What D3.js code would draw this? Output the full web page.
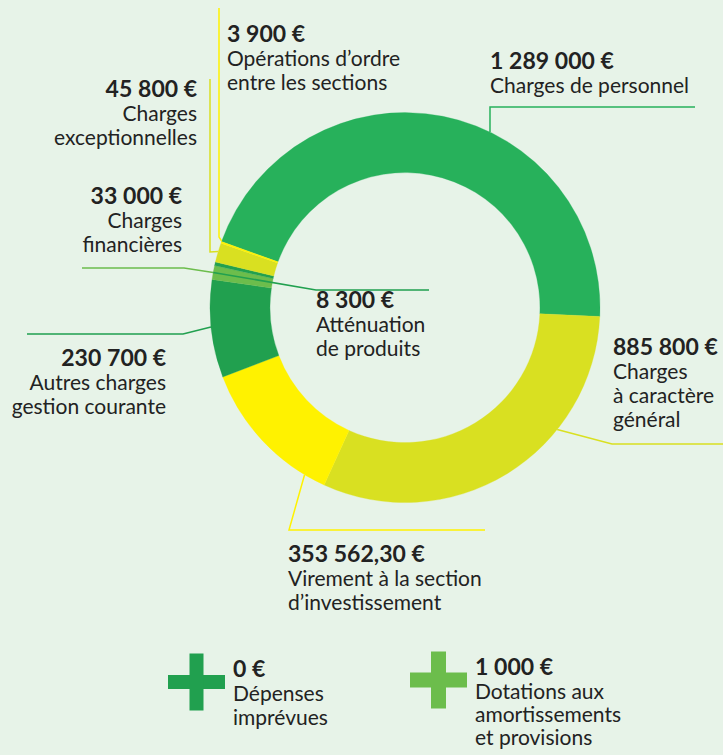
<!DOCTYPE html>
<html>
<head>
<meta charset="utf-8">
<script src="https://cdn.jsdelivr.net/npm/d3@7"></script>
<style>
  html, body { margin: 0; padding: 0; background: #e7f3e8; }
  svg { display: block; }
  text { font-family: Lato, "Open Sans", sans-serif; fill: #222; }
</style>
</head>
<body>
<script>
// Data
const categories = [
  "Charges de personnel",
  "Charges à caractère général",
  "Virement à la section d’investissement",
  "Autres charges gestion courante",
  "Charges financières",
  "Atténuation de produits",
  "Charges exceptionnelles",
  "Opérations d’ordre entre les sections"
];
const amounts = [1289000, 885800, 353562.30, 230700, 33000, 8300, 45800, 3900];
const labelLines = [
  ["Charges de personnel"],
  ["Charges", "à caractère", "général"],
  ["Virement à la section", "d’investissement"],
  ["Autres charges", "gestion courante"],
  ["Charges", "financières"],
  ["Atténuation", "de produits"],
  ["Charges", "exceptionnelles"],
  ["Opérations d’ordre", "entre les sections"]
];

// Items shown as crosses below the ring
const extraCategories = ["Dépenses imprévues", "Dotations aux amortissements et provisions"];
const extraAmounts = [0, 1000];
const extraLines = [["Dépenses", "imprévues"], ["Dotations aux", "amortissements", "et provisions"]];

// Chart dimensions
const width = 723;
const height = 755;
const cx = 405;
const cy = 307.6;
const outerRadius = 195;
const innerRadius = 135;
const startDeg = -70.2;
const valueSize = 23;
const labelSize = 21;

const colors = ["#27b15b", "#d9e021", "#fff200", "#21a04f", "#6cbd4c", "#21a04f", "#d9e021", "#fff200"];
const extraColors = ["#21a04f", "#6cbd4c"];

// Label layout: anchor angle on the ring, bend points, text position
const layout = [
  {angle: 25.84, bends: [[490, 107], [695, 107]], x: 490, y: 69, align: "start"},
  {angle: 128.7, bends: [[612, 444], [723, 444]], x: 613, y: 355, align: "start"},
  {angle: 211, bends: [[289, 530], [485, 530]], x: 288, y: 562, align: "start"},
  {angle: 264.3, bends: [[183, 334], [27, 334]], x: 166, y: 366, align: "end"},
  {angle: 280.4, bends: [[184, 268], [82, 268]], x: 182, y: 204, align: "end"},
  {angle: 280.4, bends: [[316, 290], [429, 290]], x: 316, y: 308, align: "start"},
  {angle: 286.7, bends: [[210, 252], [210, 79]], x: 197, y: 97, align: "end"},
  {angle: 289.9, bends: [[219, 237], [219, 8]], x: 227, y: 42, align: "start"}
];

const fr = d3.formatLocale({decimal: ",", thousands: "\u202f", grouping: [3], currency: ["", " €"]});
const fmt = v => (Number.isInteger(v) ? fr.format(",.0f")(v) : fr.format(",.2f")(v)) + " €";

const svg = d3.select("body")
  .append("svg")
  .attr("width", width)
  .attr("height", height)
  .attr("viewBox", [0, 0, width, height]);

const rad = d => d * Math.PI / 180;

const pie = d3.pie()
  .sort(null)
  .value(i => amounts[i])
  .startAngle(rad(startDeg))
  .endAngle(rad(startDeg) + 2 * Math.PI);

const arc = d3.arc().innerRadius(innerRadius).outerRadius(outerRadius);

const ring = svg.append("g").attr("transform", `translate(${cx},${cy})`);

ring.selectAll("path")
  .data(pie(d3.range(amounts.length)))
  .join("path")
  .attr("fill", d => colors[d.data])
  .attr("stroke", d => colors[d.data])
  .attr("stroke-width", 0.3)
  .attr("d", arc);

// Leader lines
const onRing = a => [cx + outerRadius * Math.sin(rad(a)), cy - outerRadius * Math.cos(rad(a))];
const line = d3.line();

svg.append("g")
  .attr("fill", "none")
  .attr("stroke-width", 1.5)
  .selectAll("path")
  .data(layout)
  .join("path")
  .attr("stroke", (d, i) => colors[i])
  .attr("d", d => line([onRing(d.angle), ...d.bends]));

// Labels
const labels = svg.append("g")
  .selectAll("text")
  .data(layout)
  .join("text")
  .attr("x", d => d.x)
  .attr("y", d => d.y)
  .attr("text-anchor", d => d.align);

labels.append("tspan")
  .attr("font-weight", 700)
  .attr("font-size", valueSize)
  .text((d, i) => fmt(amounts[i]));

labels.each(function(d, i) {
  d3.select(this).selectAll("tspan.l")
    .data(labelLines[i])
    .join("tspan")
    .attr("class", "l")
    .attr("x", d.x)
    .attr("dy", 24)
    .attr("font-size", labelSize)
    .text(t => t);
});

// Crosses for items not visible in the ring
const extraLayout = [
  {cx: 196.5, cy: 682, size: 57, arm: 14, x: 233, y: 677, step: 24},
  {cx: 438.5, cy: 680, size: 57, arm: 15, x: 475, y: 675, step: 23}
];

const extras = svg.append("g")
  .selectAll("g")
  .data(extraLayout)
  .join("g");

extras.append("rect")
  .attr("x", d => d.cx - d.size / 2)
  .attr("y", d => d.cy - d.arm / 2)
  .attr("width", d => d.size)
  .attr("height", d => d.arm)
  .attr("fill", (d, i) => extraColors[i]);

extras.append("rect")
  .attr("x", d => d.cx - d.arm / 2)
  .attr("y", d => d.cy - d.size / 2)
  .attr("width", d => d.arm)
  .attr("height", d => d.size)
  .attr("fill", (d, i) => extraColors[i]);

const extraText = extras.append("text")
  .attr("x", d => d.x)
  .attr("y", d => d.y);

extraText.append("tspan")
  .attr("font-weight", 700)
  .attr("font-size", valueSize)
  .text((d, i) => fmt(extraAmounts[i]));

extraText.each(function(d, i) {
  d3.select(this).selectAll("tspan.l")
    .data(extraLines[i])
    .join("tspan")
    .attr("class", "l")
    .attr("x", d.x)
    .attr("dy", (t, j) => j === 0 ? 24 : d.step)
    .attr("font-size", labelSize)
    .text(t => t);
});
</script>
</body>
</html>
